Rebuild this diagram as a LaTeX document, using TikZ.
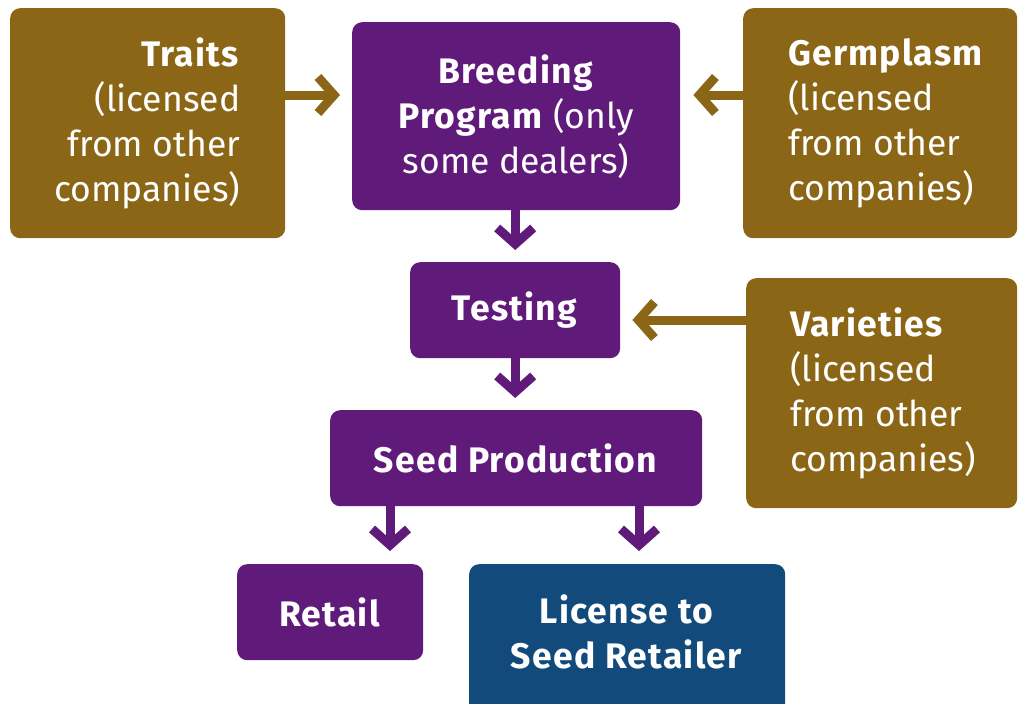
\documentclass[tikz,border=0pt]{standalone}
\usepackage{fontspec}
\setmainfont{Fira Sans}[BoldFeatures={LetterSpace=3.5}]
\usetikzlibrary{arrows.meta}
\definecolor{gold}{RGB}{138,102,22}
\definecolor{purp}{RGB}{96,26,122}
\definecolor{navy}{RGB}{18,74,124}
\begin{document}
\begin{tikzpicture}[x=1pt,y=-1pt,
  box/.style={rounded corners=10pt, inner sep=0, anchor=north west, text=white,
    font=\fontsize{35.5}{45}\selectfont, align=center},
  gbox/.style={box, fill=gold},
  pbox/.style={box, fill=purp},
  bbox/.style={box, fill=navy},
  txt/.style={text=white, font=\fontsize{35.5}{45}\selectfont, inner sep=0},
  garr/.style={draw=gold, line width=9pt, -{Straight Barb[length=16pt,width=36pt]}},
  parr/.style={draw=purp, line width=9pt, -{Straight Barb[length=16pt,width=36pt]}}]
\useasboundingbox (0,0) rectangle (1018,704);
\clip (0,0) rectangle (1018,704);
% boxes
\node[gbox, minimum width=275pt, minimum height=230pt] (traits) at (10,8) {};
\node[txt, anchor=east, align=right] (traitst) at ([xshift=-45pt]traits.east)
  {\textbf{Traits}\\(licensed\\from other\\companies)};
\node[pbox, minimum width=328pt, minimum height=188pt] (breed) at (352,22)
  {\textbf{Breeding}\\\textbf{Program} (only\\some dealers)};
\node[gbox, minimum width=274pt, minimum height=230pt] (germ) at (743,8) {};
\node[txt, anchor=west, align=left] (germt) at ([xshift=45pt]germ.west)
  {\textbf{Germplasm}\\(licensed\\from other\\companies)};
\node[pbox, minimum width=210pt, minimum height=96pt] (test) at (410,262)
  {\textbf{Testing}};
\node[gbox, minimum width=271pt, minimum height=230pt] (var) at (746,278) {};
\node[txt, anchor=west, align=left] (vart) at ([xshift=44pt]var.west)
  {\textbf{Varieties}\\(licensed\\from other\\companies)};
\node[pbox, minimum width=372pt, minimum height=96pt] (seed) at (330,410)
  {\textbf{Seed Production}};
\node[pbox, minimum width=186pt, minimum height=96pt] (retail) at (237,564)
  {\textbf{Retail}};
\node[bbox, minimum width=316pt, minimum height=150pt] (lic) at (469,564) {};
\node[txt, align=center] (lict) at (627,632)
  {\textbf{License to}\\\textbf{Seed Retailer}};
% arrows
\draw[garr, shorten >=12pt] ([yshift=-87pt]traits.north east) -- ([yshift=-87pt]traits.north east -| breed.west);
\draw[garr, shorten >=13pt] ([yshift=-87pt]germ.north west) -- ([yshift=-87pt]germ.north west -| breed.east);
\draw[garr, shorten >=12pt] ([yshift=-42pt]var.north west) -- ([yshift=-42pt]var.north west -| test.east);
\draw[parr, shorten >=12pt] (breed.south -| test.north) -- (test.north);
\draw[parr, shorten >=12pt] (test.south) -- (seed.north -| test.south);
\draw[parr, shorten >=13pt] ([xshift=60pt]seed.south west) -- ([xshift=60pt]seed.south west |- retail.north);
\draw[parr, shorten >=13pt] ([xshift=309pt]seed.south west) -- ([xshift=309pt]seed.south west |- lic.north);
\end{tikzpicture}
\end{document}
